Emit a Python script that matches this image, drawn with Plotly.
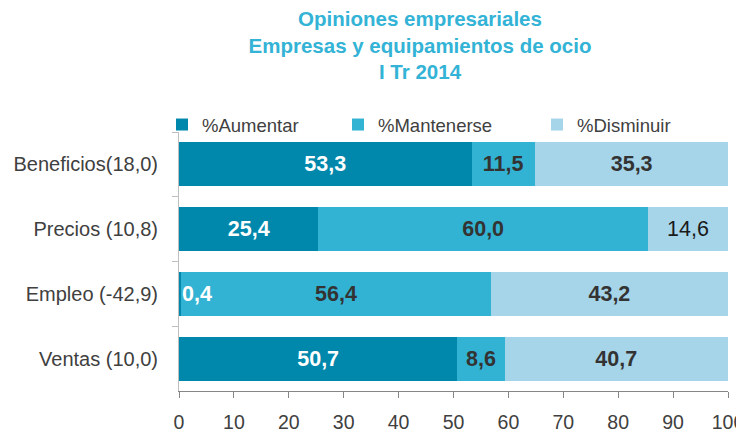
import plotly.graph_objects as go

categories = ["Beneficios(18,0)", "Precios (10,8)", "Empleo (-42,9)", "Ventas (10,0)"]
aumentar = [53.3, 25.4, 0.4, 50.7]
mantenerse = [11.5, 60.0, 56.4, 8.6]
disminuir = [35.3, 14.6, 43.2, 40.7]
series_names = ["%Aumentar", "%Mantenerse", "%Disminuir"]
x_ticks = [0, 10, 20, 30, 40, 50, 60, 70, 80, 90, 100]

colors = ["#0088AC", "#33B3D3", "#A6D4E9"]
text_colors = ["#FFFFFF", "#333333", "#333333"]
# label weight per point (the reference shows one label in regular weight)
bold_flags = [[True] * 4, [True] * 4, [True, False, True, True]]
legend_ids = ["legend", "legend2", "legend3"]
W, H = 736, 424  # page body has an 8px margin in the 744x432 window
legend_left_px = [154, 330, 529]
FONT = "Liberation Sans, Arial, sans-serif"


def fmt(v):
    return f"{v:.1f}".replace(".", ",")


fig = go.Figure()
for name, vals, col, tcol, lid, bolds in zip(series_names, [aumentar, mantenerse, disminuir],
                                             colors, text_colors, legend_ids, bold_flags):
    labels = []
    for v, b in zip(vals, bolds):
        if v < 3:
            labels.append("")
        elif b:
            labels.append("<b>" + fmt(v) + "</b>")
        else:
            labels.append("<span style='color:#1A1A1A'>" + fmt(v) + "</span>")
    fig.add_trace(go.Bar(
        y=categories, x=vals, name=name, orientation="h", legend=lid,
        marker=dict(color=col, line=dict(width=0)),
        text=labels,
        textposition="inside", insidetextanchor="middle",
        textfont=dict(family=FONT, size=21.5, color=tcol),
        texttemplate="%{text}",
        constraintext="none",
        hoverinfo="skip",
    ))

# small values that do not fit inside their bar: label at the start of the row
for cat, v in zip(categories, aumentar):
    if v < 3:
        fig.add_annotation(x=0, y=cat, xref="x", yref="y", xanchor="left", xshift=1,
                           text="<b>" + fmt(v) + "</b>",
                           showarrow=False, font=dict(family=FONT, size=21.5, color="#FFFFFF"))

legend_common = dict(orientation="h", yref="container", y=1 - 117/H, yanchor="middle",
                     xref="container", xanchor="left",
                     font=dict(family=FONT, size=18.5, color="#404040"),
                     itemclick=False, bgcolor="rgba(0,0,0,0)", borderwidth=0)

fig.update_layout(
    width=W, height=H,
    barmode="stack", bargap=0.32,
    plot_bgcolor="white", paper_bgcolor="white",
    margin=dict(l=171, r=16, t=123.5, b=40.5, autoexpand=False),
    font=dict(family=FONT, size=19, color="#404040"),
    title=dict(
        text="<b>Opiniones empresariales<br>Empresas y equipamientos de ocio<br>I Tr 2014</b>",
        x=412/W, xanchor="center", xref="container",
        y=1 - 18/H, yanchor="top", yref="container",
        font=dict(family=FONT, size=20.5, color="#33B3D6"),
    ),
    legend=dict(x=legend_left_px[0]/W, **legend_common),
    legend2=dict(x=legend_left_px[1]/W, **legend_common),
    legend3=dict(x=legend_left_px[2]/W, **legend_common),
    showlegend=True,
)
fig.update_xaxes(range=[0, 100], tickvals=x_ticks, showgrid=False, zeroline=False,
                 showline=True, linecolor="#868686", linewidth=1,
                 ticks="outside", ticklen=6, tickcolor="#868686", automargin=False,
                 ticklabelstandoff=8, ticklabeloverflow="allow",
                 tickfont=dict(family=FONT, size=19.5, color="#404040"), fixedrange=True)
fig.update_yaxes(autorange=False, range=[3.5, -0.5], categoryorder="array", categoryarray=categories,
                 showgrid=False, zeroline=False, showline=True, linecolor="#BFBFBF", linewidth=1,
                 ticks="outside", tickson="boundaries", ticklen=6, tickcolor="#BFBFBF",
                 automargin=False, ticklabelstandoff=16,
                 tickfont=dict(family=FONT, size=20, color="#404040"), fixedrange=True)

fig.write_html("out.html")
